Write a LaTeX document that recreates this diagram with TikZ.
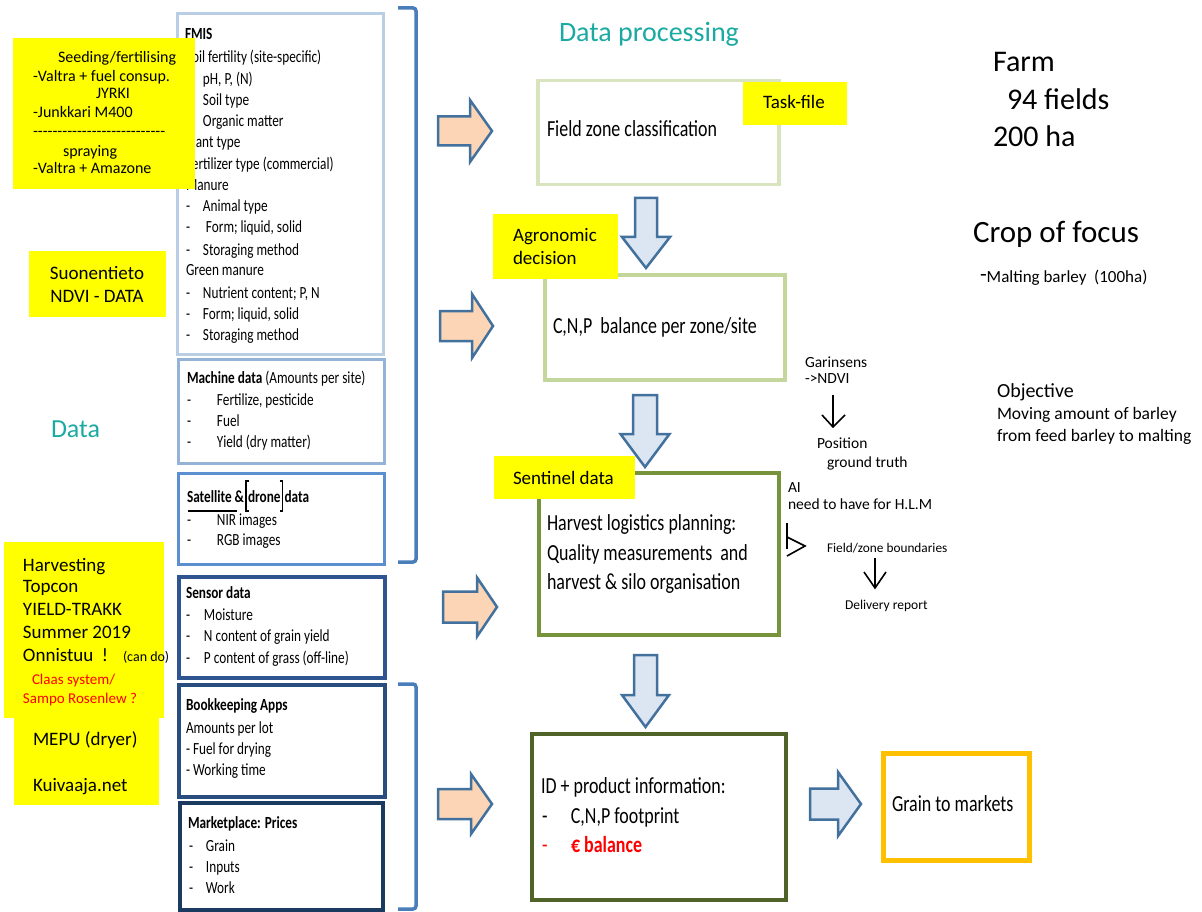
\documentclass[tikz,border=0pt]{standalone}
\usepackage{fontspec}
\setmainfont{Carlito}
\newfontfamily\condf[FakeStretch=0.78]{Carlito}
\usetikzlibrary{calc}
\definecolor{yel}{HTML}{FFFF00}
\definecolor{tealc}{HTML}{1AAAA2}
\definecolor{bFmis}{HTML}{B9CDE5}
\definecolor{bMach}{HTML}{95B3D7}
\definecolor{bSat}{HTML}{5B8FD0}
\definecolor{bSens}{HTML}{2E5590}
\definecolor{bBook}{HTML}{2A4D7F}
\definecolor{bMark}{HTML}{1B3A60}
\definecolor{brk}{HTML}{4A7EBB}
\definecolor{gA}{HTML}{D7E4BD}
\definecolor{gB}{HTML}{C3D69B}
\definecolor{gC}{HTML}{77933C}
\definecolor{gD}{HTML}{4F6228}
\definecolor{gold}{HTML}{FFC000}
\definecolor{arrB}{HTML}{41719C}
\definecolor{arrO}{HTML}{FBD5B5}
\definecolor{arrL}{HTML}{DCE6F2}
\newcommand\blkR[7]{\draw[#7] (#1,#4-#5) -- (#2,#4-#5) -- (#2,#4-#6) -- (#3,#4) -- (#2,#4+#6) -- (#2,#4+#5) -- (#1,#4+#5) -- cycle;}
\newcommand\blkD[7]{\draw[#7] (#1-#2,#3) -- (#1+#2,#3) -- (#1+#2,#4) -- (#1+#5,#4) -- (#1,#6) -- (#1-#5,#4) -- (#1-#2,#4) -- cycle;}
\newcommand\hy{-\kern0pt}
\newcommand\hyrow{\hy\hy\hy\hy\hy\hy\hy\hy\hy\hy\hy\hy\hy\hy\hy\hy\hy\hy\hy\hy\hy\hy\hy\hy\hy\hy\hy}
\begin{document}
\begin{tikzpicture}[x=1pt,y=-1pt,
  txt/.style={anchor=base west, inner sep=0, outer sep=0},
  lt/.style={txt, font=\condf\fontsize{17}{20}\selectfont},
  pt/.style={txt, font=\condf\fontsize{23}{28}\selectfont},
  yt/.style={txt, font=\fontsize{19}{23}\selectfont},
  st/.style={txt, font=\fontsize{15.5}{19}\selectfont},
  frame/.style={draw, fill=white, inner sep=0, anchor=north west},
  ybox/.style={fill=yel, inner sep=0, anchor=north west},
  bracket/.style={draw=brk, line width=3.5, rounded corners=3},
  orarrow/.style={fill=arrO, draw=arrB, line width=2.5},
  blarrow/.style={fill=arrL, draw=arrB, line width=2.5},
  thinarr/.style={draw=black, line width=1.6}]
\useasboundingbox (0,0) rectangle (1202,912);
\fill[white] (0,0) rectangle (1202,912);

% ---------- left data boxes ----------
\node[frame, draw=bFmis, line width=3, minimum width=206, minimum height=341] (fmis) at (176,12) {};
\node[lt] (f0) at (185,40) {\bfseries FMIS};
\node[lt] (f1) at (186,63) {Soil fertility (site-specific)};
\node[lt] (f2) at (186,85) {\makebox[17pt][l]{-}pH, P, (N)};
\node[lt] (f3) at (186,106) {\makebox[17pt][l]{-}Soil type};
\node[lt] (f4) at (186,127) {\makebox[17pt][l]{-}Organic matter};
\node[lt] (f5) at (186,148) {Plant type};
\node[lt] (f6) at (186,170) {Fertilizer type (commercial)};
\node[lt] (f7) at (186,191) {Manure};
\node[lt] (f8) at (186,212) {\makebox[17pt][l]{-}Animal type};
\node[lt] (f9) at (186,233) {\makebox[20pt][l]{-}Form; liquid, solid};
\node[lt] (f10) at (186,255) {\makebox[17pt][l]{-}Storaging method};
\node[lt] (f11) at (186,276) {Green manure};
\node[lt] (f12) at (186,298) {\makebox[17pt][l]{-}Nutrient content; P, N};
\node[lt] (f13) at (186,319) {\makebox[17pt][l]{-}Form; liquid, solid};
\node[lt] (f14) at (186,340) {\makebox[17pt][l]{-}Storaging method};

\node[frame, draw=bMach, line width=3, minimum width=206, minimum height=104] (mach) at (177,358) {};
\node[lt] (m0) at (187,383) {\textbf{Machine data} (Amounts per site)};
\node[lt] (m1) at (187,405) {\makebox[30pt][l]{-}Fertilize, pesticide};
\node[lt] (m2) at (187,426) {\makebox[30pt][l]{-}Fuel};
\node[lt] (m3) at (187,447) {\makebox[30pt][l]{-}Yield (dry matter)};

\node[frame, draw=bSat, line width=3, minimum width=206, minimum height=91] (sat) at (177,472) {};
\node[lt] (s1) at (187,502) {\bfseries Satellite \&};
\node[lt] (s2) at ($(s1.base east)+(4,0)$) {\bfseries drone};
\node[lt] (s3) at ($(s2.base east)+(4,0)$) {\bfseries data};
\draw[line width=1.5] ($(s2.base west)+(1,-21)$) -- ++(-3,0) -- ++(0,30) -- ++(3,0);
\draw[line width=1.5] ($(s2.base east)+(-1,-21)$) -- ++(3,0) -- ++(0,30) -- ++(-3,0);
\draw[line width=2.2] ($(s1.base west)+(1,9)$) -- ++(49,0);
\node[lt] (s4) at (187,525) {\makebox[30pt][l]{-}NIR images};
\node[lt] (s5) at (187,545) {\makebox[30pt][l]{-}RGB images};

\node[frame, draw=bSens, line width=3.5, minimum width=206, minimum height=101] (sens) at (177,575) {};
\node[lt] (e0) at (186,598) {\bfseries Sensor data};
\node[lt] (e1) at (186,620) {\makebox[18pt][l]{-}Moisture};
\node[lt] (e2) at (186,641) {\makebox[18pt][l]{-}N content of grain yield};
\node[lt] (e3) at (186,663) {\makebox[18pt][l]{-}P content of grass (off-line)};

\node[frame, draw=bBook, line width=3.5, minimum width=206, minimum height=112] (book) at (177,683) {};
\node[lt] (k0) at (186,710) {\bfseries Bookkeeping Apps};
\node[lt] (k1) at (186,733) {Amounts per lot};
\node[lt] (k2) at (186,754) {- Fuel for drying};
\node[lt] (k3) at (186,775) {- Working time};

\node[frame, draw=bMark, line width=3.5, minimum width=203, minimum height=107] (mark) at (178,801) {};
\node[lt] (p0) at (188,828) {\bfseries Marketplace: Prices};
\node[lt] (p1) at (189,851) {\makebox[17pt][l]{-}Grain};
\node[lt] (p2) at (189,872) {\makebox[17pt][l]{-}Inputs};
\node[lt] (p3) at (189,893) {\makebox[17pt][l]{-}Work};

% brackets
\draw[bracket] (398,8) -- (416,8) -- (416,562) -- (398,562);
\draw[bracket] (398,684) -- (416,684) -- (416,909) -- (398,909);

% ---------- yellow notes left ----------
\node[ybox, minimum width=182, minimum height=151] (y1) at (13,38) {};
\begin{scope}[every node/.style={txt, font=\fontsize{16}{19}\selectfont}]
\node (y1a) at (58,63) {Seeding/fertilising};
\node (y1b) at (33,82) {-Valtra + fuel consup.};
\node (y1c) at (96,99) {JYRKI};
\node (y1d) at (33,118) {-Junkkari M400};
\node (y1e) at (33,137) {\hyrow};
\node (y1f) at (63,157) {spraying};
\node (y1g) at (33,174) {-Valtra + Amazone};
\end{scope}

\node[ybox, minimum width=137, minimum height=66] (y2) at (29,251) {};
\node[yt, anchor=base] (y2a) at (97,279) {Suonentieto};
\node[yt, anchor=base] (y2b) at (97,302) {NDVI - DATA};

\node[ybox, minimum width=160, minimum height=176] (y3) at (4,542) {};
\node[ybox, minimum width=145, minimum height=88] (y4) at (14,717) {};
\node[yt] (y3a) at (23,571) {Harvesting};
\node[yt] (y3b) at (23,592) {Topcon};
\node[yt] (y3c) at (23,615) {YIELD-TRAKK};
\node[yt] (y3d) at (23,638) {Summer 2019};
\node[yt] (y3e) at (23,661) {Onnistuu\ \ !};
\node[txt, font=\fontsize{14}{17}\selectfont] (y3f) at (123,661) {(can do)};
\node[txt, font=\fontsize{15}{18}\selectfont, text=red] (y3g) at (32,684) {Claas system/};
\node[txt, font=\fontsize{15}{18}\selectfont, text=red] (y3h) at (23,703) {Sampo Rosenlew ?};
\node[yt] (y4a) at (33,745) {MEPU (dryer)};
\node[yt] (y4b) at (33,791) {Kuivaaja.net};

\node[txt, font=\fontsize{26}{30}\selectfont, text=tealc] (data) at (51,437) {Data};

% ---------- processing column ----------
\node[txt, font=\fontsize{28}{32}\selectfont, text=tealc] (dp) at (559,42) {Data processing};

\node[frame, draw=gA, line width=3.5, minimum width=241, minimum height=104] (zone) at (536,79) {};
\node[pt] (zonet) at (547,137) {Field zone classification};
\node[ybox, minimum width=104, minimum height=43] (task) at (743,82) {};
\node[yt] (taskt) at (763,109) {Task-file};

\node[frame, draw=gB, line width=3.5, minimum width=240, minimum height=105] (bal) at (543,273) {};
\node[pt] (balt) at (553,333) {C,N,P\ \ balance per zone/site};
\node[ybox, minimum width=125, minimum height=65] (agro) at (493,214) {};
\node[yt] (agroa) at (513,242) {Agronomic};
\node[yt] (agrob) at (513,265) {decision};

\node[frame, draw=gC, line width=4, minimum width=240, minimum height=162] (harv) at (537,471) {};
\node[pt] (harva) at (547,530) {Harvest logistics planning:};
\node[pt] (harvb) at (547,560) {Quality measurements\ \ and};
\node[pt] (harvc) at (547,589) {harvest \& silo organisation};
\node[ybox, minimum width=141, minimum height=43] (sent) at (494,456) {};
\node[yt] (sentt) at (513,484) {Sentinel data};

\node[frame, draw=gD, line width=4, minimum width=254, minimum height=166] (idb) at (530,732) {};
\node[pt] (ida) at (541,793) {ID + product information:};
\node[pt] (idb1) at (542,823) {\makebox[29pt][l]{-}C,N,P footprint};
\node[pt, text=red] (idb2) at (542,852) {\makebox[29pt][l]{-}\textbf{€ balance}};

\node[frame, draw=gold, line width=5, minimum width=146, minimum height=107] (grain) at (881,751) {};
\node[pt] (graint) at (892,811) {Grain to markets};

% block arrows
\blkR{438}{470}{492}{131}{14.5}{31}{orarrow}
\blkR{440}{472}{493}{326}{15}{32}{orarrow}
\blkR{443}{477}{497}{607}{15.5}{29.5}{orarrow}
\blkR{438}{471}{492}{804}{15}{30}{orarrow}
\blkR{810}{838}{861}{804}{15.5}{32}{blarrow}
\blkD{646}{11}{198}{237}{24}{268}{blarrow}
\blkD{645}{12}{395}{434}{24.5}{467}{blarrow}
\blkD{645.5}{11.5}{655}{695}{23.5}{727}{blarrow}

% ---------- right annotations ----------
\node[st] (gar1) at (805,367) {Garinsens};
\node[st] (gar2) at (805,383) {->NDVI};
\coordinate (ga) at (833,395);
\coordinate (gb) at (833,427);
\draw[thinarr] (ga) -- (gb);
\draw[thinarr] (822,415) -- (gb) -- (845,415);
\node[st] (pos1) at (817,448) {Position};
\node[st] (pos2) at (827,467) {ground truth};
\node[st] (ai1) at (788,492) {AI};
\node[st] (ai2) at (788,509) {need to have for H.L.M};
\coordinate (ha) at (787,523);
\coordinate (hb) at (787,549);
\draw[thinarr] (ha) -- (hb);
\draw[thinarr] (787,537) -- (805,546) -- (787,556);
\node[txt, font=\fontsize{13.3}{16}\selectfont] (fzb) at (827,552) {Field/zone boundaries};
\coordinate (da) at (875,558);
\coordinate (db) at (875,588);
\draw[thinarr] (da) -- (db);
\draw[thinarr] (864,572) -- (db) -- (886,572);
\node[txt, font=\fontsize{13.5}{16}\selectfont] (del) at (845,609) {Delivery report};

\node[txt, font=\fontsize{30}{34}\selectfont] (farm1) at (993,72) {Farm};
\node[txt, font=\fontsize{30}{34}\selectfont] (farm2) at (1007,110) {94 fields};
\node[txt, font=\fontsize{30}{34}\selectfont] (farm3) at (993,147) {200 ha};
\node[txt, font=\fontsize{31}{35}\selectfont] (crop) at (973,243) {Crop of focus};
\node[txt, font=\fontsize{17}{20}\selectfont] (malt) at (980,282) {{\fontsize{22}{22}\selectfont\raisebox{1pt}{-}}Malting barley\ \ (100ha)};
\node[txt, font=\fontsize{20}{24}\selectfont] (obj) at (997,397) {Objective};
\node[txt, font=\fontsize{17.5}{21}\selectfont] (obj1) at (997,419) {Moving amount of barley};
\node[txt, font=\fontsize{17.5}{21}\selectfont] (obj2) at (997,441) {from feed barley to malting};
\end{tikzpicture}
\end{document}
